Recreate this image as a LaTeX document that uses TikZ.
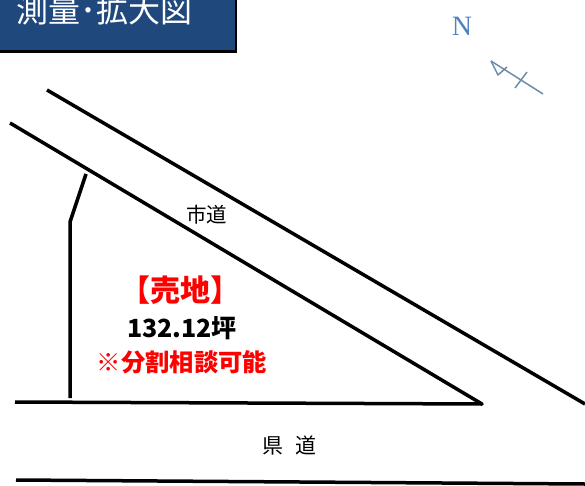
\documentclass[tikz,border=0pt]{standalone}
\usepackage{fontspec}
\setmainfont{Liberation Serif}
\newfontfamily\jpfont{Noto Sans CJK JP}
\definecolor{bannerblue}{HTML}{1F497D}
\definecolor{northblue}{HTML}{4F81BD}
\definecolor{northline}{HTML}{6E8CA8}

\begin{document}
\begin{tikzpicture}[
  x=1pt,y=-1pt,
  road/.style={line width=3.5pt,black,line join=round},
  jptext/.style={font=\jpfont,inner sep=0pt},
  northmark/.style={line width=1.5pt,northline,line join=round}
  ]
  \useasboundingbox (0,0) rectangle (585,486);
  \clip (0,0) rectangle (585,486);

  % banner
  \draw[fill=bannerblue,draw=black,line width=2.5pt] (-5,-5) rectangle (236,51.5);
  \node[jptext,white,font=\jpfont\fontsize{32}{32}\selectfont] (title) at (104.5,10) {測量･拡大図};

  % north mark
  \node[inner sep=0pt,northblue,font=\fontsize{28}{28}\selectfont] (north) at (462,26) {N};
  \coordinate (arrow tip) at (491,61);
  \draw[northmark] (arrow tip) -- (543,94);
  \draw[northmark] (arrow tip) -- (498,75) -- (507,67);
  \draw[northmark] (515,88) -- (527,72);

  % roads
  \draw[road] (47,90) -- (585,404);
  \draw[road] (10,123) -- (482,404) -- (15,402);
  \draw[road] (16,480) -- (585,484);

  % lot boundary
  \draw[road] (70,398) -- (70,222) -- (86,174);

  % labels
  \node[jptext,font=\jpfont\fontsize{20.5}{20.5}\selectfont] (city road) at (206.5,215) {市道};
  \node[jptext,font=\jpfont\fontsize{21}{21}\selectfont] (pref road) at (289.5,446) {県\hspace{0.6em}道};
  \node[jptext,red,font=\jpfont\bfseries\fontsize{30}{30}\selectfont] (sale) at (180,290) {【売地】};
  \node[jptext,font=\jpfont\bfseries\fontsize{25}{25}\selectfont] (area) at (182,328) {132.12坪};
  \node[jptext,red,font=\jpfont\bfseries\fontsize{24.3}{25}\selectfont] (note) at (182,362) {※分割相談可能};
\end{tikzpicture}
\end{document}
